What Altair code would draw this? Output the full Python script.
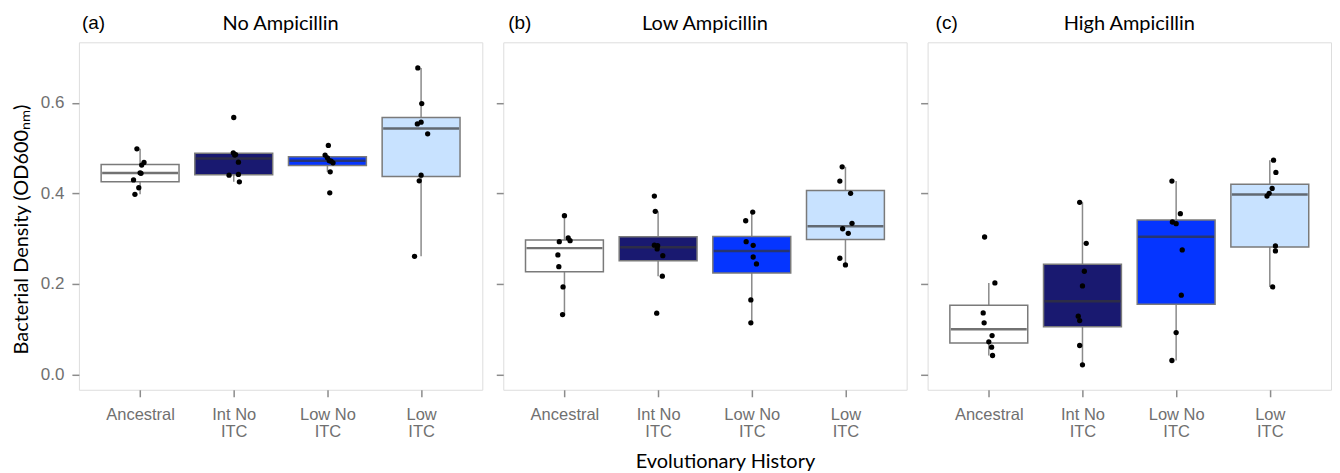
import altair as alt
import pandas as pd

# ---------------- data ----------------
GROUPS = ["Ancestral", "Int No ITC", "Low No ITC", "Low ITC"]
LABEL_LINES = [["Ancestral"], ["Int No", "ITC"], ["Low No", "ITC"], ["Low", "ITC"]]
PANEL_TITLES = ["No Ampicillin", "Low Ampicillin", "High Ampicillin"]
PANEL_TAGS = ["(a)", "(b)", "(c)"]
FILLS = ["#ffffff", "#191970", "#0535ff", "#c8e2ff"]
Y_TICKS = [0.0, 0.2, 0.4, 0.6]

# box statistics per panel (q1, median, q3, lower whisker, upper whisker)
a_q1 = [0.4257, 0.4416, 0.4620, 0.4377]
a_median = [0.4451, 0.4770, 0.4720, 0.5435]
a_q3 = [0.4641, 0.4890, 0.4810, 0.5678]
a_lo = [0.3980, 0.4258, 0.4478, 0.2612]
a_hi = [0.4986, 0.4898, 0.4847, 0.6773]

b_q1 = [0.2272, 0.2515, 0.2240, 0.2984]
b_median = [0.2792, 0.2810, 0.2727, 0.3277]
b_q3 = [0.2972, 0.3045, 0.3048, 0.4065]
b_lo = [0.1324, 0.2171, 0.1141, 0.2420]
b_hi = [0.3508, 0.3605, 0.3589, 0.4589]

c_q1 = [0.0695, 0.1056, 0.1550, 0.2818]
c_median = [0.1000, 0.1617, 0.3043, 0.3979]
c_q3 = [0.1530, 0.2435, 0.3414, 0.4205]
c_lo = [0.0419, 0.0214, 0.0309, 0.1935]
c_hi = [0.2023, 0.3803, 0.4273, 0.4736]

# individual replicate densities and their horizontal jitter (category units)
a_points = {
    "Ancestral": [0.4986, 0.4685, 0.4626, 0.4457, 0.4445, 0.4300, 0.4126, 0.3980],
    "Int No ITC": [0.5678, 0.4898, 0.4848, 0.4860, 0.4692, 0.4420, 0.4405, 0.4258],
    "Low No ITC": [0.5060, 0.4847, 0.4787, 0.4725, 0.4714, 0.4677, 0.4478, 0.4015],
    "Low ITC": [0.6773, 0.5987, 0.5575, 0.5537, 0.5317, 0.4405, 0.4280, 0.2612],
}
a_jitter = {
    "Ancestral": [-0.034, 0.042, 0.017, 0.0, 0.01, -0.07, -0.014, -0.055],
    "Int No ITC": [0.0, -0.005, 0.01, 0.02, 0.05, 0.05, -0.05, 0.06],
    "Low No ITC": [0.01, -0.025, 0.0, 0.02, 0.04, 0.06, 0.03, 0.025],
    "Low ITC": [-0.035, 0.007, 0.0, -0.04, 0.07, 0.0, -0.02, -0.07],
}
b_points = {
    "Ancestral": [0.3508, 0.3016, 0.2956, 0.2934, 0.2641, 0.2383, 0.1935, 0.1324],
    "Int No ITC": [0.3942, 0.3605, 0.2858, 0.2845, 0.2775, 0.2625, 0.2171, 0.1354],
    "Low No ITC": [0.3589, 0.3397, 0.2934, 0.2855, 0.2596, 0.2442, 0.1648, 0.1141],
    "Low ITC": [0.4589, 0.4273, 0.4002, 0.3340, 0.3220, 0.3119, 0.2568, 0.2420],
}
b_jitter = {
    "Ancestral": [0.0, 0.04, 0.06, -0.055, -0.07, -0.06, -0.015, -0.02],
    "Int No ITC": [-0.04, -0.03, -0.04, -0.005, -0.01, 0.05, 0.045, -0.015],
    "Low No ITC": [0.01, -0.065, -0.06, 0.015, 0.015, 0.05, -0.01, -0.01],
    "Low ITC": [-0.035, -0.06, 0.055, 0.07, -0.03, 0.03, -0.06, 0.0],
}
c_points = {
    "Ancestral": [0.3038, 0.2023, 0.1361, 0.1141, 0.0860, 0.0721, 0.0604, 0.0419],
    "Int No ITC": [0.3803, 0.2899, 0.2281, 0.1957, 0.1288, 0.1191, 0.0640, 0.0214],
    "Low No ITC": [0.4273, 0.3552, 0.3369, 0.3331, 0.2751, 0.1752, 0.0927, 0.0309],
    "Low ITC": [0.4736, 0.4465, 0.4112, 0.4002, 0.3942, 0.2839, 0.2729, 0.1935],
}
c_jitter = {
    "Ancestral": [-0.045, 0.065, -0.06, -0.05, 0.035, 0.0, 0.03, 0.04],
    "Int No ITC": [-0.03, 0.04, 0.02, 0.0, -0.045, -0.03, -0.03, 0.0],
    "Low No ITC": [-0.045, 0.045, -0.04, 0.0, 0.065, 0.055, 0.0, -0.045],
    "Low ITC": [0.04, 0.065, 0.025, -0.007, -0.03, 0.06, 0.06, 0.03],
}

# ---------------- styling ----------------
LABEL_FONT = "Liberation Sans"
TITLE_FONT = "Lato"
LABEL_COLOR = "#707070"
TICK_COLOR = "#8c8c8c"
FRAME_COLOR = "#c4c4c4"
BOX_STROKE = "#7a7a7a"
WHISKER_COLOR = "#8a8a8a"
MEDIAN_COLOR = "#363636"

PANEL_W = 404
PANEL_H = 348
BOX_PX = 78
TAG_X = [3, 5, 8]

x_scale = alt.Scale(domain=[0.4, 4.6], nice=False, zero=False)
y_scale = alt.Scale(domain=[-0.0338, 0.734], nice=False, zero=False)

label_expr = " : ".join(
    f"datum.value == {i + 1} ? {lines!r}" for i, lines in enumerate(LABEL_LINES[:-1])
) + f" : {LABEL_LINES[-1]!r}"


def x_axis(show_title):
    kw = dict(
        values=[1, 2, 3, 4],
        labelExpr=label_expr,
        grid=False,
        domain=False,
        ticks=True,
        tickSize=7,
        tickWidth=1.5,
        tickColor=TICK_COLOR,
        labelFont=LABEL_FONT,
        labelFontSize=16.5,
        labelColor=LABEL_COLOR,
        labelPadding=10,
        labelLineHeight=17,
        labelBaseline="top",
    )
    if show_title:
        kw.update(
            title="Evolutionary History",
            titleFont=TITLE_FONT,
            titleFontSize=20,
            titleFontWeight="normal",
            titleColor="#000000",
            titleX=222,
            titleY=78,
            titleAlign="center",
            titleBaseline="alphabetic",
        )
    else:
        kw["title"] = None
    return alt.Axis(**kw)


def y_axis(first):
    kw = dict(
        values=Y_TICKS,
        grid=False,
        domain=False,
        ticks=True,
        tickSize=7,
        tickWidth=1.5,
        tickColor=TICK_COLOR,
        labels=first,
        labelFont=LABEL_FONT,
        labelFontSize=17,
        labelColor=LABEL_COLOR,
        labelPadding=8,
        format=".1f",
    )
    if first:
        kw.update(
            title="Bacterial Density (OD600ₙₘ)",
            titleFont=TITLE_FONT,
            titleFontSize=20,
            titleFontWeight="normal",
            titleColor="#000000",
            titlePadding=9,
            titleY=187,
            titleAlign="center",
        )
    else:
        kw["title"] = None
    return alt.Axis(**kw)


def make_panel(k, q1, med, q3, lo, hi, pts, jit):
    box_df = pd.DataFrame({
        "idx": [1, 2, 3, 4], "group": GROUPS,
        "q1": q1, "median": med, "q3": q3, "lo": lo, "hi": hi,
    })
    rows = []
    for i, g in enumerate(GROUPS):
        for v, j in zip(pts[g], jit[g]):
            rows.append({"idx": i + 1, "jitter": j, "value": v})
    pts_df = pd.DataFrame(rows)

    xa = x_axis(k == 1)
    ya = y_axis(k == 0)

    def X(field):
        return alt.X(field, type="quantitative", scale=x_scale, axis=xa)

    def Y(field):
        return alt.Y(field, type="quantitative", scale=y_scale, axis=ya)

    whisk = alt.Chart(box_df).mark_rule(color=WHISKER_COLOR, strokeWidth=1.5).encode(
        x=X("idx"), y=Y("lo"), y2="hi:Q"
    )
    box = alt.Chart(box_df).mark_bar(
        size=BOX_PX, orient="vertical", stroke=BOX_STROKE, strokeWidth=1.5
    ).encode(
        x=X("idx"), y=Y("q1"), y2="q3:Q",
        fill=alt.Fill("group:N", scale=alt.Scale(domain=GROUPS, range=FILLS), legend=None),
    )
    median = alt.Chart(box_df).mark_tick(
        orient="horizontal", size=BOX_PX - 2, thickness=2.5, color=MEDIAN_COLOR
    ).encode(x=X("idx"), y=Y("median"))
    dots = alt.Chart(pts_df).transform_calculate(
        xpos="datum.idx + datum.jitter"
    ).mark_circle(size=28, color="#000000", opacity=1).encode(x=X("xpos"), y=Y("value"))

    head_df = pd.DataFrame({"tag": [PANEL_TAGS[k]], "title": [PANEL_TITLES[k]]})
    tag = alt.Chart(head_df).mark_text(
        align="left", baseline="alphabetic", font=LABEL_FONT, fontSize=19, color="#000000"
    ).encode(x=alt.value(TAG_X[k]), y=alt.value(-13), text="tag:N")
    title = alt.Chart(head_df).mark_text(
        align="center", baseline="alphabetic", font=TITLE_FONT, fontSize=20, color="#000000"
    ).encode(x=alt.value(PANEL_W / 2), y=alt.value(-12), text="title:N")

    return alt.layer(whisk, box, median, dots, tag, title).properties(
        width=PANEL_W, height=PANEL_H
    )


panels = [
    make_panel(0, a_q1, a_median, a_q3, a_lo, a_hi, a_points, a_jitter),
    make_panel(1, b_q1, b_median, b_q3, b_lo, b_hi, b_points, b_jitter),
    make_panel(2, c_q1, c_median, c_q3, c_lo, c_hi, c_points, c_jitter),
]

chart = alt.hconcat(*panels, spacing=21, bounds="flush").properties(
    padding={"left": 2, "top": 5, "right": 0, "bottom": 0}
).configure_view(
    stroke=FRAME_COLOR, strokeWidth=1.5
).configure(background="#ffffff")

chart.save("out.html", embed_options={"renderer": "svg", "actions": False})
